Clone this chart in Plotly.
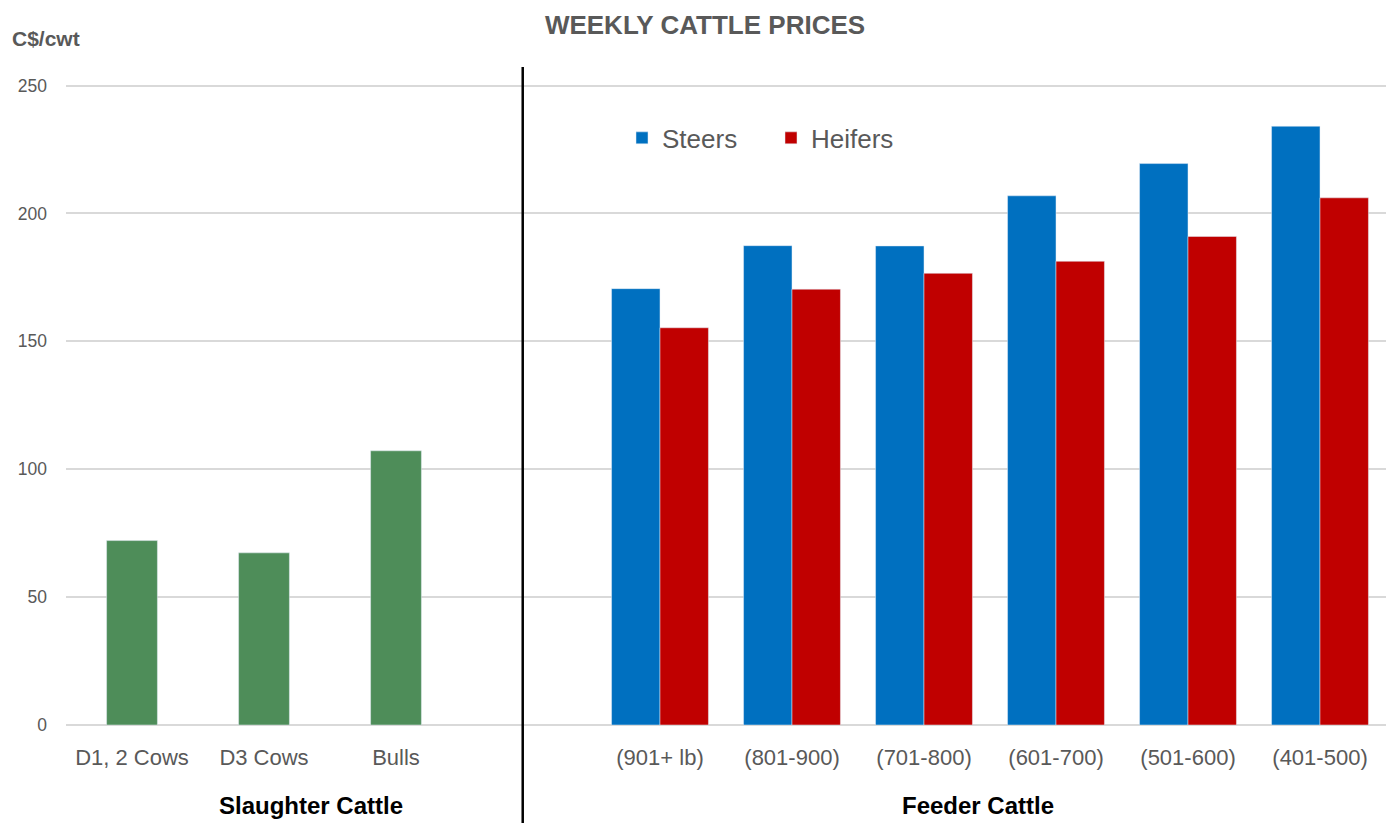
import plotly.graph_objects as go

categories = ["D1, 2 Cows", "D3 Cows", "Bulls", " ",
              "(901+ lb)", "(801-900)", "(701-800)", "(601-700)", "(501-600)", "(401-500)"]
slaughter_cats = ["D1, 2 Cows", "D3 Cows", "Bulls"]
slaughter_vals = [72.1, 67.3, 107.2]
feeder_cats = ["(901+ lb)", "(801-900)", "(701-800)", "(601-700)", "(501-600)", "(401-500)"]
steers = [170.6, 187.4, 187.3, 206.9, 219.5, 234.1]
heifers = [155.3, 170.4, 176.6, 181.3, 191.0, 206.1]
y_ticks = [0, 50, 100, 150, 200, 250]

FONT = "Liberation Sans, Arial, sans-serif"
GRAY = "#595959"

fig = go.Figure()
fig.add_trace(go.Bar(x=slaughter_cats, y=slaughter_vals, name="Slaughter",
                     marker_color="#4E8D59", width=0.385, offset=-0.1925,
                     showlegend=False))
fig.add_trace(go.Bar(x=feeder_cats, y=steers, name="Steers",
                     marker_color="#0070C0", width=0.367, offset=-0.367))
fig.add_trace(go.Bar(x=feeder_cats, y=heifers, name="Heifers",
                     marker_color="#C00000", width=0.367, offset=0))

W, H = 1388, 823
YMAX = 251
L, R, T, B = 66, 2, 83, 97.5
ph = H - T - B
pw = W - L - R

def px_x(px):
    return (px - L) / pw

def px_y(py):
    return (H - B - py) / ph

fig.update_layout(
    width=W, height=H,
    margin=dict(l=L, r=R, t=T, b=B),
    plot_bgcolor="white", paper_bgcolor="white",
    barmode="overlay",
    font=dict(family=FONT, color=GRAY),
    title=dict(text="<b>WEEKLY CATTLE PRICES</b>", xref="container", yref="container",
               x=705 / W, y=1 - 25 / H, xanchor="center", yanchor="middle",
               font=dict(family=FONT, size=26, color=GRAY)),
    xaxis=dict(type="category", categoryorder="array", categoryarray=categories,
               range=[-0.5, 9.5], showgrid=False, showline=False, zeroline=False,
               ticks="", tickfont=dict(family=FONT, size=22, color=GRAY),
               ticklabelstandoff=17),
    yaxis=dict(range=[0, YMAX], tickvals=y_ticks, showgrid=True, gridcolor="#D9D9D9",
               gridwidth=2, zeroline=True, zerolinecolor="#D9D9D9", zerolinewidth=2,
               showline=False, ticks="", tickfont=dict(family=FONT, size=17.5, color=GRAY),
               ticklabelstandoff=18),
    legend=dict(orientation="h", x=px_x(622), y=px_y(138), xanchor="left", yanchor="middle",
                font=dict(family=FONT, size=26, color=GRAY), bgcolor="rgba(0,0,0,0)",
                entrywidth=104),
    showlegend=True,
)

fig.add_shape(type="line", xref="x", yref="paper", x0=2.96, x1=2.96,
              y0=px_y(H + 5), y1=px_y(67), line=dict(color="black", width=2.5))

fig.add_annotation(text="<b>C$/cwt</b>", xref="paper", yref="paper",
                   x=px_x(10), y=px_y(38), xanchor="left", yanchor="middle",
                   showarrow=False, font=dict(family=FONT, size=21, color=GRAY))
fig.add_annotation(text="<b>Slaughter Cattle</b>", xref="paper", yref="paper",
                   x=px_x(311), y=px_y(806), xanchor="center", yanchor="middle",
                   showarrow=False, font=dict(family=FONT, size=24, color="black"))
fig.add_annotation(text="<b>Feeder Cattle</b>", xref="paper", yref="paper",
                   x=px_x(978), y=px_y(806), xanchor="center", yanchor="middle",
                   showarrow=False, font=dict(family=FONT, size=24, color="black"))

fig.write_html("out.html", config={"displayModeBar": False},
               post_script="document.body.style.margin='0';document.body.style.overflow='hidden';")
